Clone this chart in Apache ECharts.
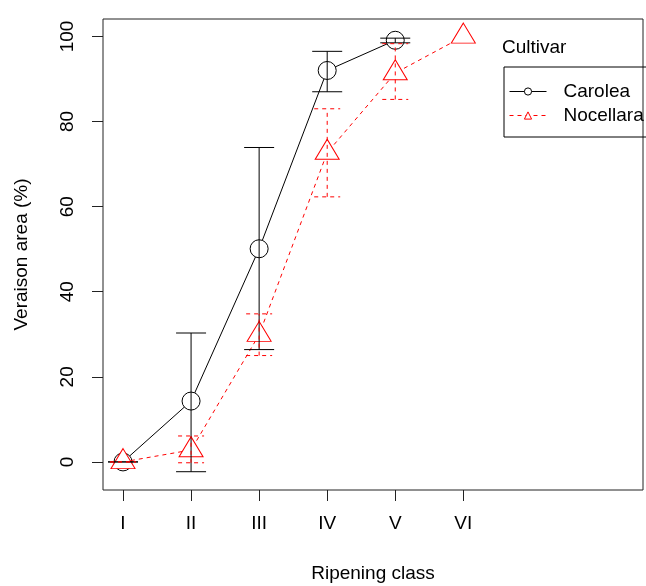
<!DOCTYPE html>
<html>
<head>
<meta charset="utf-8">
<script src="https://cdn.jsdelivr.net/npm/echarts@6/dist/echarts.min.js"></script>
<style>
  html, body { margin: 0; padding: 0; background: #fff; }
  #chart { width: 646px; height: 586px; }
</style>
</head>
<body>
<div id="chart"></div>
<script>
// ripening classes (x positions 1..6)
const classes = ['I', 'II', 'III', 'IV', 'V', 'VI']
const classPos = [1, 2, 3, 4, 5, 6]

// Carolea: mean, upper and lower error bar ends
const caroleaMean = [0, 14.3, 50.1, 92.0, 99.1]
const caroleaHigh = [0, 30.3, 73.9, 96.5, 99.6]
const caroleaLow = [0, -2.3, 26.4, 87.0, 98.5]

// Nocellara
const nocellaraMean = [0, 2.8, 29.9, 72.7, 91.4, 100]
const nocellaraHigh = [0, 6.1, 34.8, 83.0, 98.3, null]
const nocellaraLow = [0, -0.2, 25.0, 62.3, 85.2, null]

const yTicks = [0, 20, 40, 60, 80, 100]

const font = 'Liberation Sans, Arial, sans-serif'

function points(mean) {
  return mean.map((v, i) => [classPos[i], v])
}

function bars(low, high) {
  const out = []
  low.forEach((lo, i) => {
    if (lo == null || high[i] == null) return
    out.push([classPos[i], lo, high[i]])
  })
  return out
}

function errorBar(color, capHalf, dash) {
  return function (params, api) {
    const lo = api.coord([api.value(0), api.value(1)])
    const hi = api.coord([api.value(0), api.value(2)])
    const style = { stroke: color, lineWidth: 1, lineDash: dash }
    return {
      type: 'group',
      children: [
        { type: 'line', shape: { x1: lo[0], y1: lo[1], x2: hi[0], y2: hi[1] }, style: style },
        { type: 'line', shape: { x1: lo[0] - capHalf, y1: lo[1], x2: lo[0] + capHalf, y2: lo[1] }, style: style },
        { type: 'line', shape: { x1: hi[0] - capHalf, y1: hi[1], x2: hi[0] + capHalf, y2: hi[1] }, style: style }
      ]
    }
  }
}

const chart = echarts.init(document.getElementById('chart'), null, { renderer: 'canvas' })

const option = {
  animation: false,
  backgroundColor: '#fff',
  textStyle: { fontFamily: font },
  title: {
    text: 'Cultivar',
    left: 502,
    top: 38,
    padding: 0,
    textStyle: { fontFamily: font, fontSize: 19, fontWeight: 'normal', color: '#000' }
  },
  legend: {
    data: ['Carolea', 'Nocellara'],
    orient: 'vertical',
    left: 504,
    top: 67,
    padding: [15, 60, 12, 5],
    itemGap: 5,
    itemWidth: 37,
    itemHeight: 9,
    borderColor: '#000',
    borderWidth: 1,
    borderRadius: 0,
    lineStyle: { width: 1 },
    itemStyle: { borderWidth: 1 },
    formatter: '{t|{name}}',
    textStyle: {
      fontFamily: font,
      fontSize: 19,
      color: '#000',
      rich: { t: { fontFamily: font, fontSize: 19, color: '#000', padding: [0, 0, 0, 12] } }
    }
  },
  grid: {
    left: 103,
    top: 19,
    width: 540,
    height: 471,
    outerBoundsMode: 'none',
    containLabel: false,
    show: true,
    borderColor: '#222',
    borderWidth: 1,
    backgroundColor: 'transparent'
  },
  xAxis: {
    type: 'value',
    min: 0.706,
    max: 8.64,
    name: 'Ripening class',
    nameLocation: 'middle',
    nameGap: 74,
    nameTextStyle: { fontFamily: font, fontSize: 19, color: '#000' },
    splitLine: { show: false },
    axisLine: { show: false, onZero: false },
    axisTick: {
      show: true,
      length: 11,
      customValues: classPos,
      lineStyle: { color: '#222', width: 1 }
    },
    axisLabel: {
      customValues: classPos,
      margin: 24,
      fontFamily: font,
      fontSize: 19,
      color: '#000',
      formatter: v => classes[Math.round(v) - 1]
    }
  },
  yAxis: {
    type: 'value',
    min: -6.6,
    max: 104.1,
    name: 'Veraison area (%)',
    nameLocation: 'middle',
    nameGap: 72,
    nameTextStyle: { fontFamily: font, fontSize: 19, color: '#000' },
    splitLine: { show: false },
    axisLine: { show: false, onZero: false },
    axisTick: {
      show: true,
      length: 11,
      customValues: yTicks,
      lineStyle: { color: '#222', width: 1 }
    },
    axisLabel: {
      customValues: yTicks,
      rotate: 90,
      margin: 26,
      fontFamily: font,
      fontSize: 19,
      color: '#000'
    }
  },
  series: [
    {
      name: 'Carolea',
      type: 'line',
      data: points(caroleaMean),
      symbol: 'circle',
      symbolSize: 18,
      lineStyle: { color: '#000', width: 1 },
      itemStyle: { color: '#fff', borderColor: '#000', borderWidth: 1 },
      z: 2
    },
    {
      name: 'Nocellara',
      type: 'line',
      data: points(nocellaraMean),
      symbol: 'triangle',
      symbolSize: [24, 20],
      symbolOffset: [0, -3.3],
      lineStyle: { color: '#ff0000', width: 1, type: [4, 4] },
      itemStyle: { color: '#fff', borderColor: '#ff0000', borderWidth: 1 },
      z: 3
    },
    {
      name: 'Carolea err',
      type: 'custom',
      data: bars(caroleaLow, caroleaHigh),
      renderItem: errorBar('#000', 15, null),
      z: 5
    },
    {
      name: 'Nocellara err',
      type: 'custom',
      data: bars(nocellaraLow, nocellaraHigh),
      renderItem: errorBar('#ff0000', 13, [4, 4]),
      z: 6
    }
  ]
}

chart.setOption(option)
</script>
</body>
</html>
